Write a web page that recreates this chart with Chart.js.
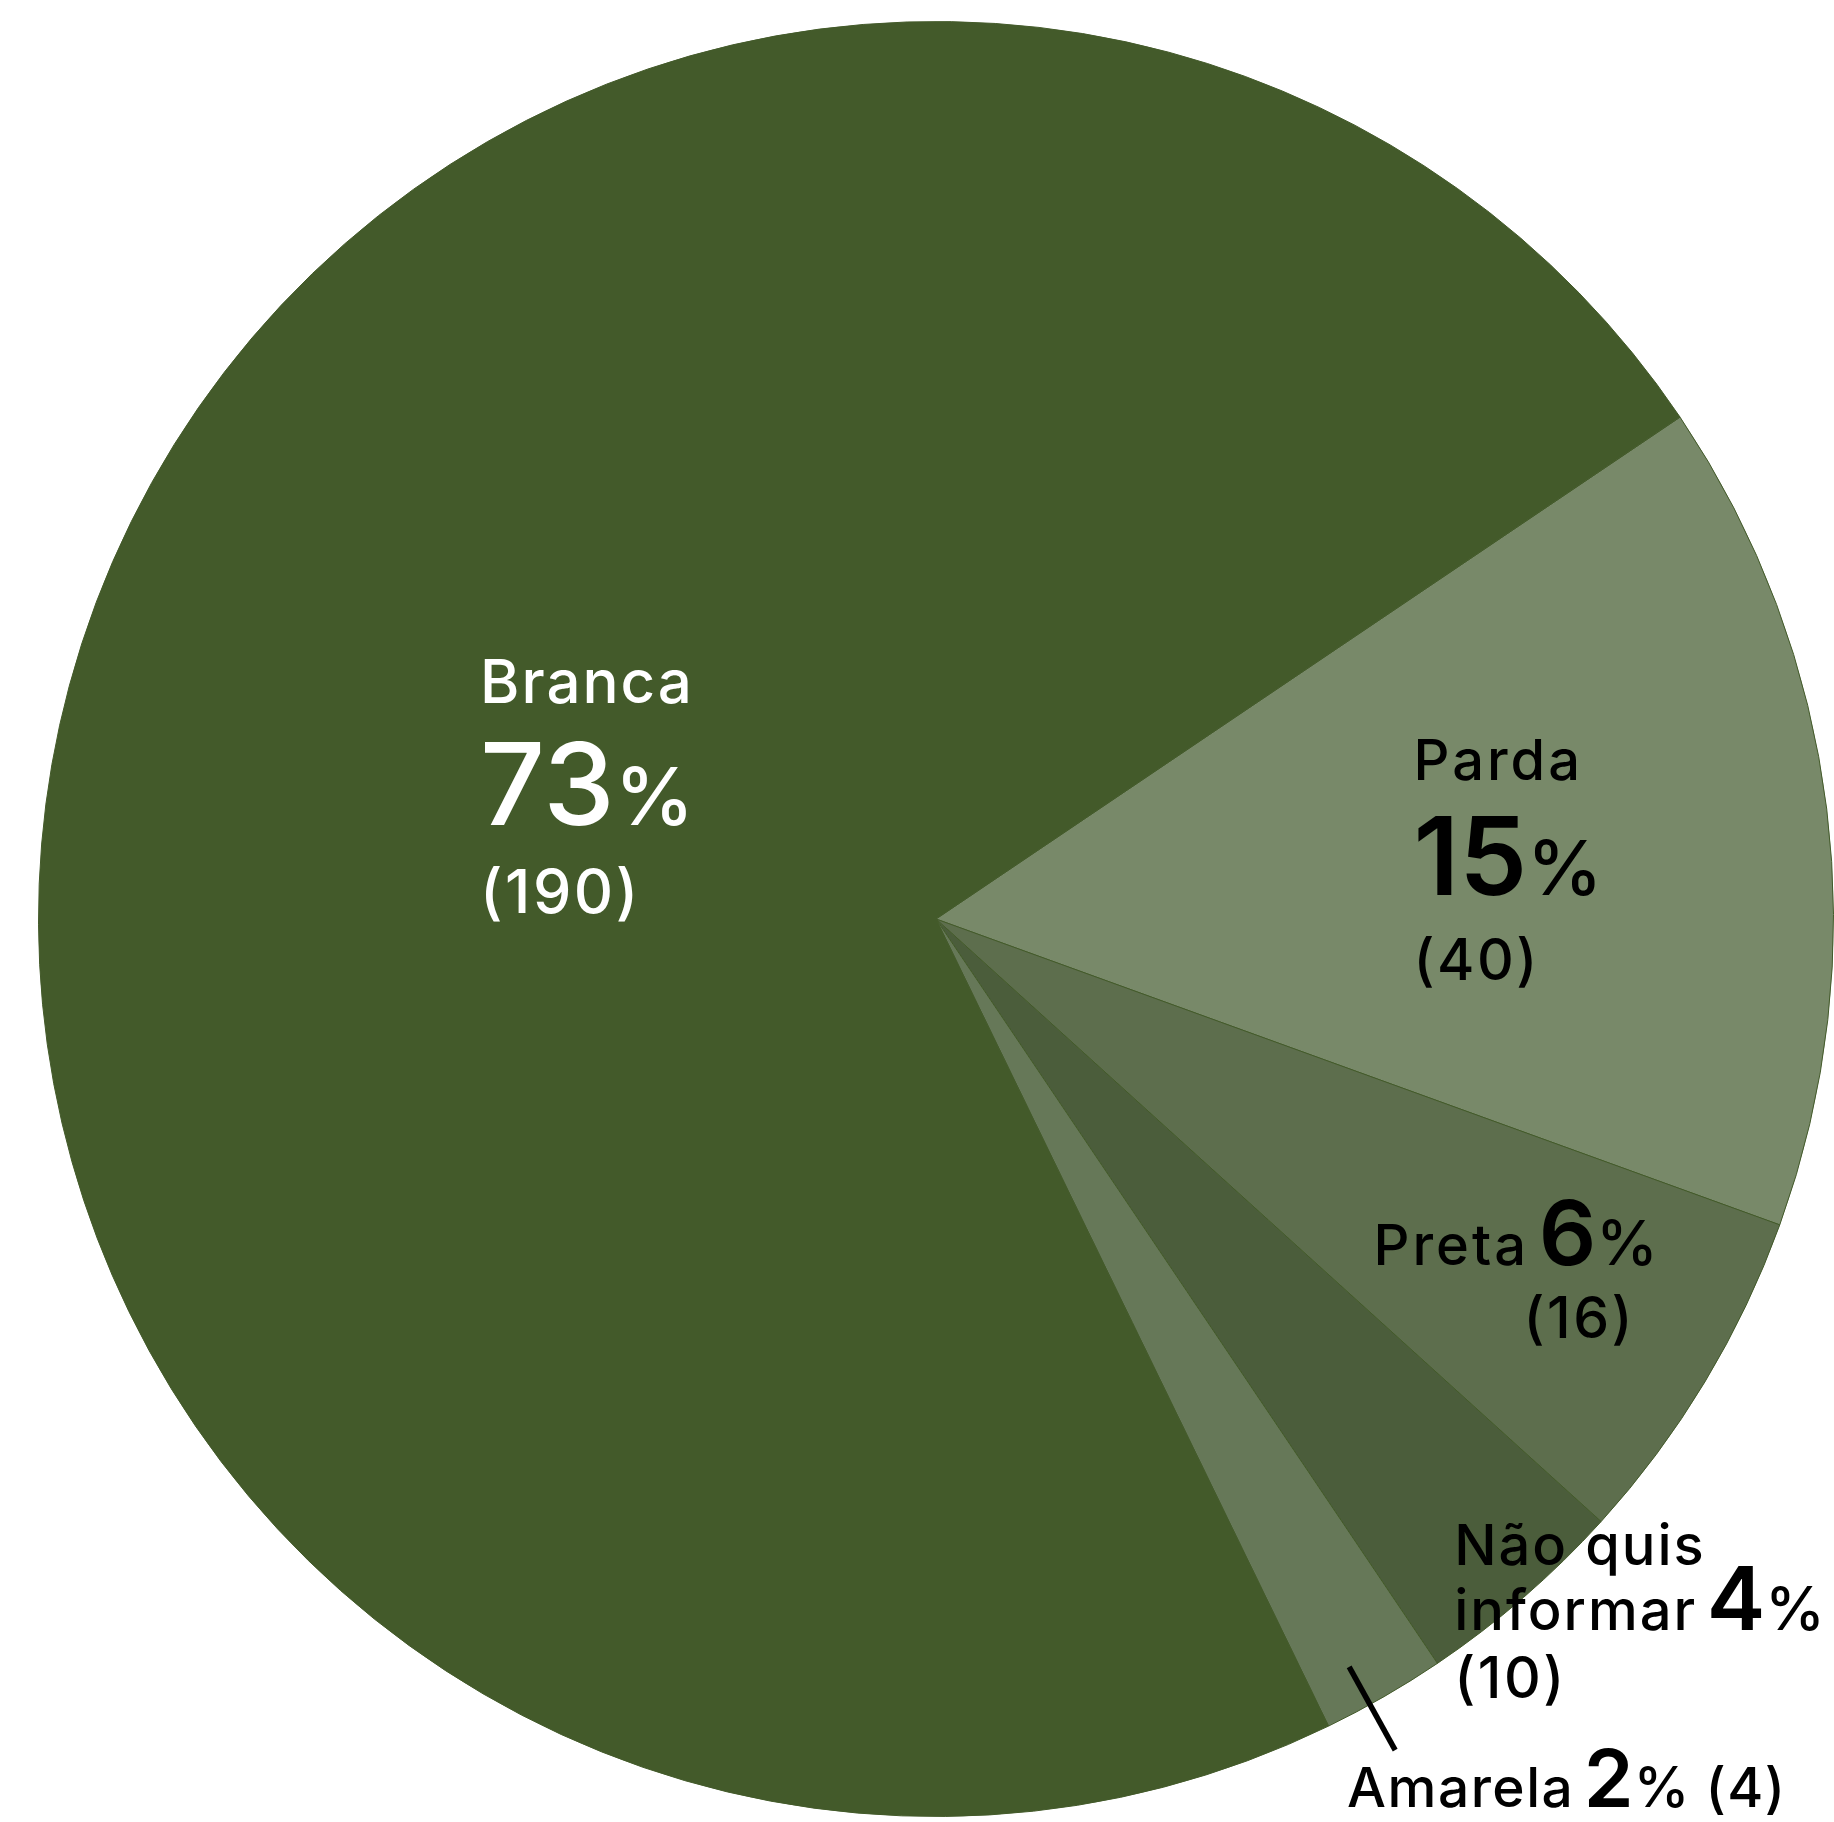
<!DOCTYPE html>
<html>
<head>
<meta charset="utf-8">
<script src="https://cdn.jsdelivr.net/npm/chart.js@4.4.1/dist/chart.umd.min.js"></script>
<style>
    html, body { margin: 0; padding: 0; background: #ffffff; }
    #wrap { width: 1834px; height: 1822px; }
</style>
</head>
<body>
<div id="wrap"><canvas id="pieChart"></canvas></div>
<script>
// slice order is clockwise, starting at the Parda slice
const categories = ['Parda', 'Preta', 'Não quis informar', 'Amarela', 'Branca'];
const shares = [14.98, 6.18, 3.85, 2.23, 72.76];   // slice sizes
const percentLabels = ['15', '6', '4', '2', '73'];
const counts = [40, 16, 10, 4, 190];
const sliceColors = ['#788969', '#5d6e4d', '#4b5d3b', '#667858', '#435a2a'];

const FONT = 'Inter, "Noto Sans", sans-serif';

// label blocks, anchored in units of the pie radius from its centre
// segment = [text, size, weight, letterSpacing]
const labelBlocks = [
    { ax: 0.532, ay: -0.155, color: '#000', lines: [
        { dy: 0, segs: [['Parda', 56, 500, 3]] },
        { dy: 115, segs: [[percentLabels[0], 108, 600, 0], ['%', 76, 500, 0]] },
        { dy: 200, segs: [['(' + counts[0] + ')', 57, 500, 2.5]] }
    ] },
    { ax: 0.4875, ay: 0.3853, color: '#000', lines: [
        { dy: 0, segs: [['Preta', 56, 500, 3], [' ', 36, 500, 0], [percentLabels[1], 90, 600, 0], ['%', 62, 500, 0]] },
        { dy: 73, dx: 150, segs: [['(' + counts[1] + ')', 57, 500, 2.5]] }
    ] },
    { ax: 0.5774, ay: 0.7194, color: '#000', lines: [
        { dy: 0, segs: [['Não quis', 56, 500, 2]] },
        { dy: 65, segs: [['informar', 56, 500, 2], [' ', 36, 500, 0], [percentLabels[2], 88, 600, 0], ['%', 60, 500, 0]] },
        { dy: 133, segs: [['(' + counts[2] + ')', 57, 500, 2.5]] }
    ] },
    { ax: 0.458, ay: 0.9889, color: '#000', lines: [
        { dy: 0, segs: [['Amarela', 55, 500, 1.5], [' ', 36, 500, 0], [percentLabels[3], 80, 600, 0], ['%', 56, 500, 0], [' (' + counts[3] + ')', 55, 500, 1.5]] }
    ] },
    { ax: -0.508, ay: -0.2405, color: '#fff', lines: [
        { dy: 0, segs: [['Branca', 60, 500, 2]] },
        { dy: 122, segs: [[percentLabels[4], 114, 500, 0], ['%', 80, 500, 0]] },
        { dy: 210, segs: [['(' + counts[4] + ')', 61, 500, 2.5]] }
    ] }
];

const sliceLabels = {
    id: 'sliceLabels',
    afterDatasetsDraw(chart) {
        const ctx = chart.ctx;
        const meta = chart.getDatasetMeta(0);
        const first = meta.data[0];
        const cx = first.x, cy = first.y, R = first.outerRadius;

        ctx.save();
        ctx.textBaseline = 'alphabetic';
        ctx.textAlign = 'left';

        labelBlocks.forEach(block => {
            const x0 = cx + block.ax * R;
            const y0 = cy + block.ay * R;
            ctx.fillStyle = block.color;
            block.lines.forEach(line => {
                let x = x0 + (line.dx || 0);
                const y = y0 + line.dy;
                line.segs.forEach(([text, size, weight, spacing]) => {
                    ctx.font = `${weight} ${size}px ${FONT}`;
                    ctx.letterSpacing = spacing + 'px';
                    ctx.fillText(text, x, y);
                    x += ctx.measureText(text).width;
                });
            });
        });
        ctx.letterSpacing = '0px';

        // leader line for the small Amarela slice
        const amarela = meta.data[3];
        const mid = (amarela.startAngle + amarela.endAngle) / 2 + 0.018;
        ctx.strokeStyle = '#000';
        ctx.lineWidth = 5.5;
        ctx.beginPath();
        ctx.moveTo(cx + Math.cos(mid) * R * 0.952, cy + Math.sin(mid) * R * 0.952);
        ctx.lineTo(cx + Math.cos(mid) * R * 1.058, cy + Math.sin(mid) * R * 1.058);
        ctx.stroke();
        ctx.restore();
    }
};

new Chart(document.getElementById('pieChart'), {
    type: 'pie',
    data: {
        labels: categories,
        datasets: [{
            data: shares,
            backgroundColor: sliceColors,
            borderColor: '#435a2a',
            borderWidth: 1
        }]
    },
    options: {
        responsive: true,
        maintainAspectRatio: false,
        animation: false,
        rotation: 56.0,
        layout: { padding: { left: 38, right: 0, top: 21, bottom: 5 } },
        plugins: {
            legend: { display: false },
            tooltip: { enabled: false }
        }
    },
    plugins: [sliceLabels]
});
</script>
</body>
</html>
